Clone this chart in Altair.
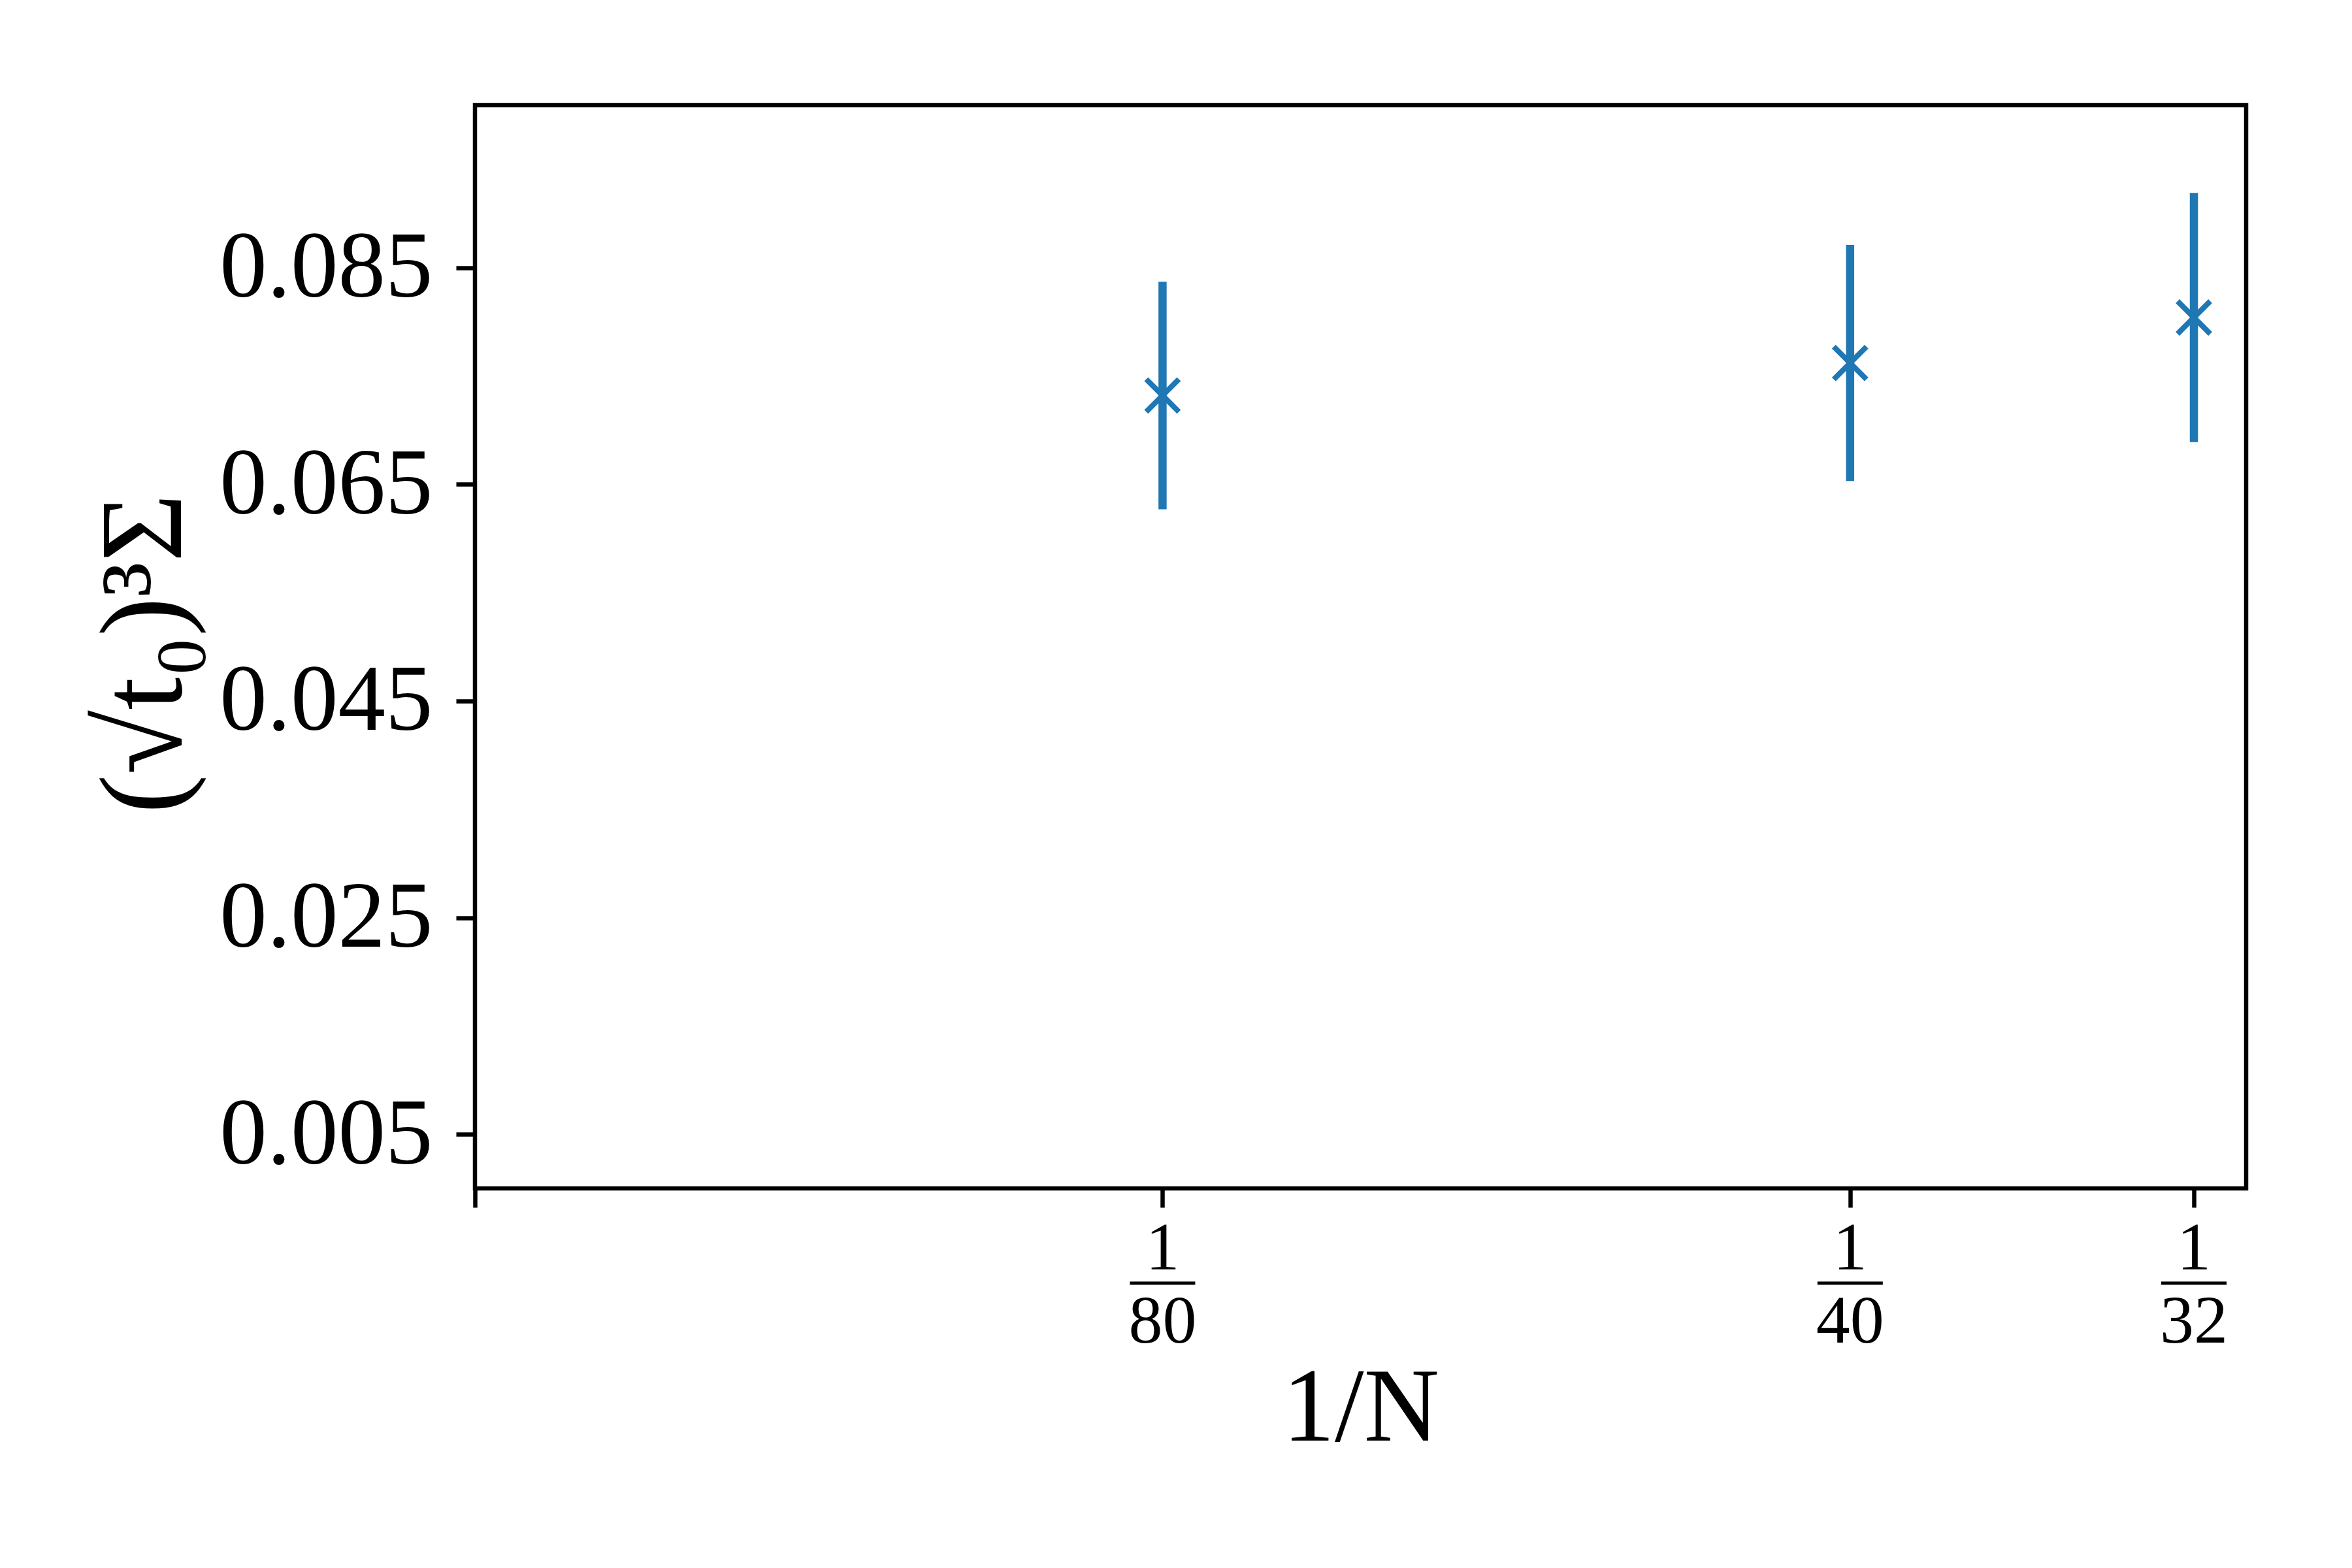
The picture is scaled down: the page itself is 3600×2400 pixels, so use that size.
import altair as alt
import pandas as pd

# ---- data ----
inv_n = [1 / 80, 1 / 40, 1 / 32]
sigma = [0.0732, 0.0762, 0.0804]
sigma_err = [0.0105, 0.0109, 0.0115]
frac_num = ["1", "1", "1"]
frac_den = ["80", "40", "32"]

x_ticks = [0.0, 1 / 80, 1 / 40, 1 / 32]
y_ticks = [0.005, 0.025, 0.045, 0.065, 0.085]

df = pd.DataFrame({"x": inv_n, "y": sigma, "err": sigma_err})
df["lo"] = df["y"] - df["err"]
df["hi"] = df["y"] + df["err"]

labels = pd.DataFrame({"x": inv_n, "num": frac_num, "den": frac_den})

W, H = 2711, 1658
FONT = "Liberation Serif"
BLUE = "#1f77b4"

xscale = alt.Scale(domain=[0, 0.0322], nice=False, zero=False)
yscale = alt.Scale(domain=[0, 0.1], nice=False, zero=False)

x_enc = alt.X(
    "x:Q",
    scale=xscale,
    axis=alt.Axis(
        values=x_ticks,
        labels=False,
        grid=False,
        title="1/N",
        titleFont=FONT,
        titleFontSize=160,
        titleFontWeight="normal",
        titleColor="black",
        titleLimit=3000,
        titleY=385,
        titleBaseline="alphabetic",
        tickSize=29,
        tickWidth=6.5,
        tickColor="black",
        domain=False,
    ),
)

y_enc = alt.Y(
    "y:Q",
    scale=yscale,
    axis=alt.Axis(
        values=y_ticks,
        format=".3f",
        grid=False,
        labelFont=FONT,
        labelFontSize=145,
        labelColor="black",
        labelPadding=36,
        labelLimit=3000,
        tickSize=29,
        tickWidth=6.5,
        tickColor="black",
        domain=False,
        title="(√t₀)³Σ",
        titleFont=FONT,
        titleFontSize=180,
        titleFontWeight="normal",
        titleColor="black",
        titleLimit=3000,
        titleAngle=270,
        titleX=-505,
        titleY=H / 2 + 10,
        titleAlign="center",
        titleBaseline="middle",
    ),
)

bars = alt.Chart(df).mark_rule(color=BLUE, strokeWidth=12.5).encode(
    x=x_enc, y=alt.Y("lo:Q", scale=yscale), y2="hi:Q"
)

points = alt.Chart(df).mark_point(
    shape="M -1 -1 L 1 1 M -1 1 L 1 -1",
    filled=False,
    color=BLUE,
    strokeWidth=8.3,
    size=2500,
    opacity=1,
).encode(x=alt.X("x:Q", scale=xscale), y=y_enc)

num = alt.Chart(labels).mark_text(
    font=FONT, fontSize=104, color="black", baseline="alphabetic", align="center"
).encode(x=alt.X("x:Q", scale=xscale), y=alt.value(H + 124), text="num:N")

bar_line = alt.Chart(labels).mark_rule(
    color="black", strokeWidth=5, xOffset=-50, x2Offset=50
).encode(x=alt.X("x:Q", scale=xscale), x2="x:Q", y=alt.value(H + 145))

den = alt.Chart(labels).mark_text(
    font=FONT, fontSize=104, color="black", baseline="alphabetic", align="center"
).encode(x=alt.X("x:Q", scale=xscale), y=alt.value(H + 236), text="den:N")

chart = (
    alt.layer(bars, points, num, bar_line, den)
    .properties(
        width=W,
        height=H,
        autosize=alt.AutoSizeParams(type="none"),
        padding={"left": 719, "top": 153, "right": 150, "bottom": 560},
        background="white",
    )
    .configure_view(stroke="black", strokeWidth=6.5)
)

chart.save("out.html", embed_options={"renderer": "svg", "actions": False})
